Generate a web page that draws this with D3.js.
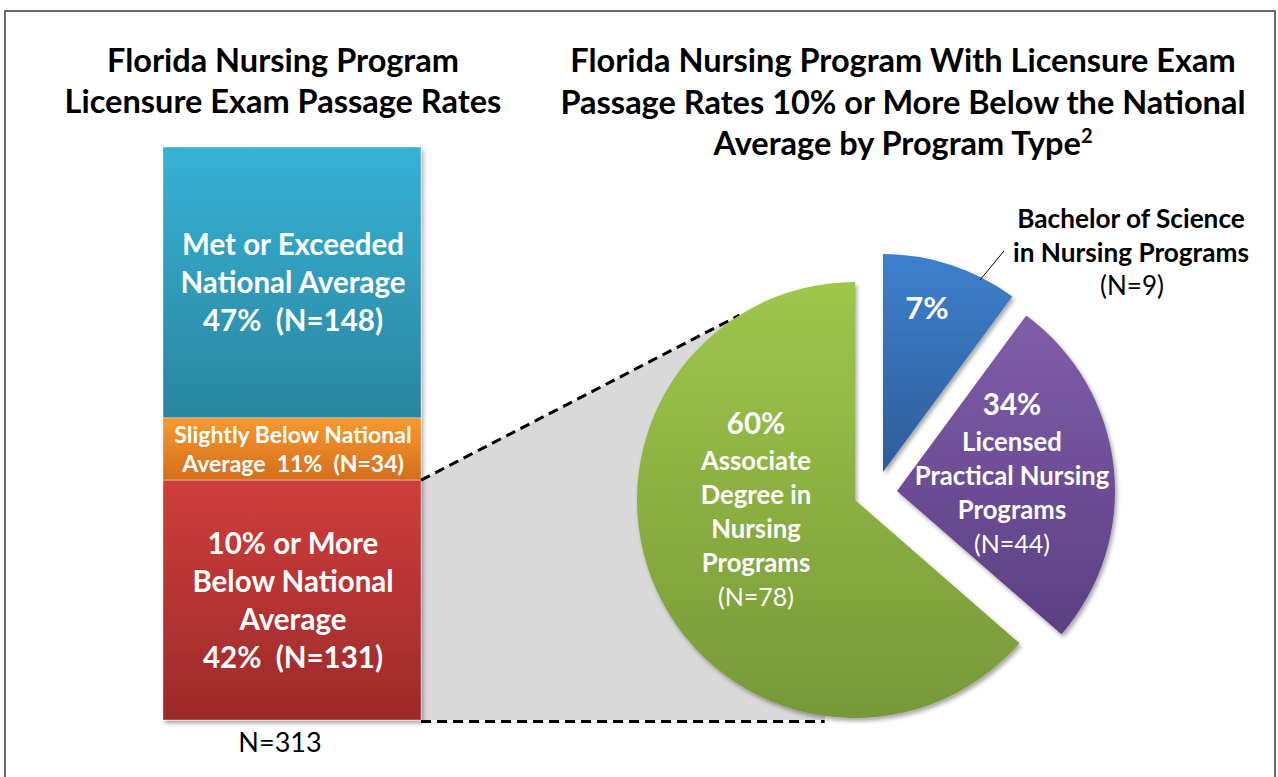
<!DOCTYPE html>
<html>
<head>
<meta charset="utf-8">
<title>Florida Nursing Program Licensure Exam Passage Rates</title>
<style>
  body { margin: 0; background: #fff; }
  svg { display: block; font-family: Lato, "Open Sans", sans-serif; }
  text { white-space: pre; }
</style>
</head>
<body>
<svg width="1278" height="777"></svg>
<script src="https://cdn.jsdelivr.net/npm/d3@7"></script>
<script>
// ---- data ----
const barCategories = ["Met or Exceeded National Average", "Slightly Below National Average", "10% or More Below National Average"]
const barCounts = [148, 34, 131]
const barPcts = ["47%", "11%", "42%"]
const barTotalLabel = "N=313"

const pieCategories = ["Bachelor of Science in Nursing Programs", "Licensed Practical Nursing Programs", "Associate Degree in Nursing Programs"]
const pieCounts = [9, 44, 78]
const piePcts = ["7%", "34%", "60%"]
// slice sizes as they are drawn in the picture (share of the circle, %)
const pieDrawnShares = [10.1, 26.3, 63.6]

// ---- layout ----
const svg = d3.select("svg")
const barLeft = 163, barRight = 421, barTop = 147, barBottom = 720
const pieCenter = [855, 500], pieRadius = 218
const sliceShift = [[28, -28], [42, -9], [0, 0]]
const zoomTopAngle = 328, zoomBottomAngle = 188

const barColors = [["#37b2d6", "#2a859e"], ["#f8992f", "#d36e1d"], ["#cf3d3b", "#9c2a2a"]]
const pieColors = [["#3e80cd", "#2e5d9a"], ["#805daa", "#5c3f83"], ["#9fc74b", "#779839"]]

const defs = svg.append("defs")
function grad(id, c) {
	let g = defs.append("linearGradient").attr("id", id)
		.attr("x1", 0).attr("y1", 0).attr("x2", 0).attr("y2", 1)
	g.append("stop").attr("offset", "0%").attr("stop-color", c[0])
	g.append("stop").attr("offset", "100%").attr("stop-color", c[1])
}
barColors.forEach((c, i) => grad("bar" + i, c))
pieColors.forEach((c, i) => grad("pie" + i, c))
defs.append("filter").attr("id", "shadow").attr("x", "-10%").attr("y", "-10%").attr("width", "130%").attr("height", "130%")
	.append("feDropShadow").attr("dx", 2).attr("dy", 3).attr("stdDeviation", 2)
	.attr("flood-color", "#000").attr("flood-opacity", 0.35)

// frame
svg.append("rect").attr("x", 5).attr("y", 11).attr("width", 1270).attr("height", 800)
	.attr("fill", "none").attr("stroke", "#3a3a3a").attr("stroke-width", 1.5)

// text helper
function lines(g, arr, x, y, lh, size, weight, fill) {
	let t = g.append("text").attr("text-anchor", "middle")
		.style("font-size", size + "px").style("font-weight", weight).attr("fill", fill)
	arr.forEach((s, i) => t.append("tspan").attr("x", x).attr("y", y + i * lh).text(s))
	return t
}

// titles
lines(svg, ["Florida Nursing Program", "Licensure Exam Passage Rates"], 283, 72, 41, 32.5, 700, "#000")
let t2 = lines(svg, ["Florida Nursing Program With Licensure Exam", "Passage Rates 10% or More Below the National", "Average by Program Type"], 903, 72, 41.5, 32.5, 700, "#000")
t2.select("tspan:last-child").append("tspan").attr("dy", -12).style("font-size", "20px").text("2")

// ---- stacked bar ----
const y = d3.scaleLinear().domain([0, d3.sum(barCounts)]).range([barTop, barBottom])
const x = d3.scaleBand().domain(["all"]).range([barLeft, barRight])
const cum = [0, ...d3.cumsum(barCounts)]
const segs = barCounts.map((v, i) => ({ i, y0: cum[i], y1: cum[i + 1] }))

// zoom connector (gray area + dashed lines)
const gc = pieCenter.map((v, k) => v + sliceShift[2][k])
const onCircle = a => [gc[0] + pieRadius * Math.sin(a * Math.PI / 180), gc[1] - pieRadius * Math.cos(a * Math.PI / 180)]
const redTop = y(cum[2]), redBottom = y(cum[3])
const topEnd = onCircle(zoomTopAngle), botEnd = onCircle(zoomBottomAngle)
svg.append("path")
	.attr("d", d3.line()([[x.range()[1], redTop], topEnd, gc, [botEnd[0], redBottom], [x.range()[1], redBottom]]))
	.attr("fill", "#d9d9d9")

let gb = svg.append("g").attr("filter", "url(#shadow)")
gb.selectAll("rect").data(segs).enter().append("rect")
	.attr("x", x("all")).attr("width", x.bandwidth())
	.attr("y", d => y(d.y0)).attr("height", d => y(d.y1) - y(d.y0))
	.attr("fill", d => "url(#bar" + d.i + ")")
	.attr("stroke", "rgba(255,255,255,0.35)").attr("stroke-width", 1)

svg.append("line").attr("x1", x.range()[1]).attr("y1", redTop).attr("x2", topEnd[0]).attr("y2", topEnd[1])
	.attr("stroke", "#000").attr("stroke-width", 3).attr("stroke-dasharray", "10,6")
svg.append("line").attr("x1", x.range()[1]).attr("y1", redBottom + 1.5).attr("x2", botEnd[0]).attr("y2", redBottom + 1.5)
	.attr("stroke", "#000").attr("stroke-width", 3).attr("stroke-dasharray", "10,6")

// bar labels
const barLabelLines = [
	["Met or Exceeded", "National Average", `${barPcts[0]}  (N=${barCounts[0]})`],
	["Slightly Below National", `Average  ${barPcts[1]}  (N=${barCounts[1]})`],
	["10% or More", "Below National", "Average", `${barPcts[2]}  (N=${barCounts[2]})`]
]
const barLabelSize = [29.5, 23, 29.5], barLabelLh = [38, 29, 38]
segs.forEach(d => {
	let n = barLabelLines[d.i].length, lh = barLabelLh[d.i], fs = barLabelSize[d.i]
	let mid = (y(d.y0) + y(d.y1)) / 2
	lines(svg, barLabelLines[d.i], x("all") + x.bandwidth() / 2 + 1, mid - (n - 1) / 2 * lh + fs * 0.36, lh, fs, 700, "#fff")
})
lines(svg, [barTotalLabel], 280, 752, 0, 27, 400, "#000")

// ---- pie ----
const arcs = d3.pie().sort(null).value(d => d)(pieDrawnShares)
const arc = d3.arc().innerRadius(0).outerRadius(pieRadius)
let gp = svg.append("g").attr("filter", "url(#shadow)")
gp.selectAll("path").data(arcs).enter().append("path")
	.attr("transform", (d, i) => `translate(${pieCenter[0] + sliceShift[i][0]},${pieCenter[1] + sliceShift[i][1]})`)
	.attr("d", arc)
	.attr("fill", (d, i) => "url(#pie" + i + ")")

// pie labels (offsets from each slice's center)
const pieLabelAt = [[44, -153], [115, -76], [-99, -66]]
const pieNameLines = [[], ["Licensed", "Practical Nursing", "Programs"], ["Associate", "Degree in", "Nursing", "Programs"]]
arcs.forEach((d, i) => {
	let cx = pieCenter[0] + sliceShift[i][0] + pieLabelAt[i][0]
	let cy = pieCenter[1] + sliceShift[i][1] + pieLabelAt[i][1]
	lines(svg, [piePcts[i]], cx, cy, 0, i == 0 ? 31 : 29.5, 700, "#fff")
	let nl = pieNameLines[i]
	if (nl.length) {
		lines(svg, nl, cx, cy + 36, 34, 25.7, 700, "#fff")
		lines(svg, [`(N=${pieCounts[i]})`], cx, cy + 36 + nl.length * 34, 0, 25, 400, "#fff")
	}
})

// outside label for the small slice
lines(svg, ["Bachelor of Science", "in Nursing Programs"], 1131, 228, 33.5, 26.2, 700, "#000")
lines(svg, [`(N=${pieCounts[0]})`], 1132, 295, 0, 26, 400, "#000")
svg.append("line").attr("x1", 980).attr("y1", 280).attr("x2", 1004).attr("y2", 251)
	.attr("stroke", "#000").attr("stroke-width", 1)
</script>
</body>
</html>
